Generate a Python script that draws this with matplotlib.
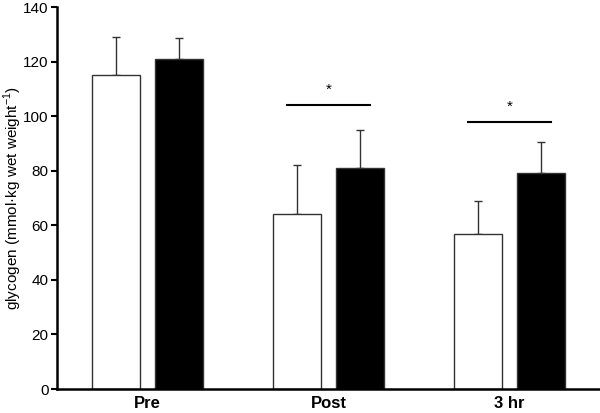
import numpy as np
import matplotlib
matplotlib.use("Agg")
import matplotlib.pyplot as plt

plt.rcParams['font.family'] = ['Liberation Sans', 'DejaVu Sans']
plt.rcParams['mathtext.fontset'] = 'custom'
plt.rcParams['mathtext.rm'] = 'Liberation Sans'

# データ
groups = ["Pre", "Post", "3 hr"]
white_vals = [115, 64, 57]
white_err = [14, 18, 12]
black_vals = [121, 81, 79]
black_err = [7.5, 14, 11.5]
# 有意差の線 (グループ番号, 線の高さ)
sig_groups = [1, 2]
sig_heights = [104, 98]

fig = plt.figure(figsize=(6, 4.13), dpi=100)
ax = fig.add_axes([0.095, 0.058, 0.905, 0.925])

x = np.arange(len(groups))
w = 0.265
off = 0.174

ax.bar(x - off, white_vals, w, color='white', edgecolor='#333333', linewidth=1.0, zorder=2)
ax.bar(x + off, black_vals, w, color='black', edgecolor='#333333', linewidth=1.0, zorder=2)
# 上向きのエラーバーのみ
ax.errorbar(x - off, white_vals, yerr=[np.zeros(3), white_err], fmt='none',
            ecolor='#333333', elinewidth=1.0, capsize=3, capthick=1.0, zorder=1)
ax.errorbar(x + off, black_vals, yerr=[np.zeros(3), black_err], fmt='none',
            ecolor='#333333', elinewidth=1.0, capsize=3, capthick=1.0, zorder=1)

for g, h in zip(sig_groups, sig_heights):
    ax.plot([g - 0.23, g + 0.23], [h, h], color='black', linewidth=1.5)
    ax.text(g, h + 3, '*', ha='center', va='bottom', fontsize=11)

ax.set_xlim(-0.5, 2.5)
ax.set_ylim(0, 140)
ax.set_yticks(range(0, 141, 20))
ax.set_xticks(x)
ax.set_xticklabels(groups, fontsize=12, fontweight='bold')
ax.tick_params(axis='x', length=0, pad=5)
ax.tick_params(axis='y', labelsize=11, length=4, width=1.5, pad=2)
ax.set_ylabel('glycogen (mmol·kg wet weight$^{\\mathrm{-1}}$)', fontsize=11, va='center')
ax.yaxis.set_label_coords(-0.081, 0.5)

for s in ['top', 'right']:
    ax.spines[s].set_visible(False)
for s in ['left', 'bottom']:
    ax.spines[s].set_linewidth(1.8)

fig.savefig('out.png', dpi=100)
